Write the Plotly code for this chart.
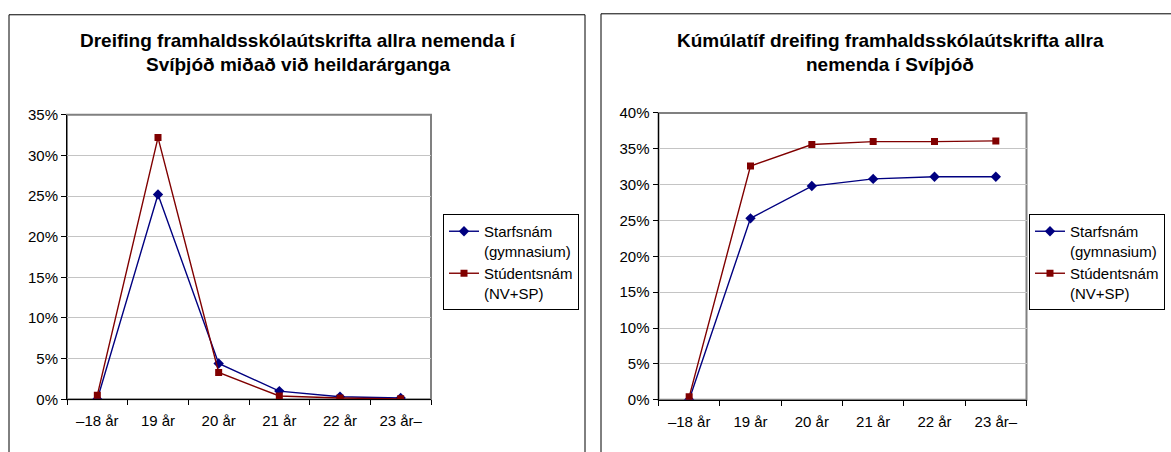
import plotly.graph_objects as go

# categories and values (percent)
ages = ["\u201318 år", "19 år", "20 år", "21 år", "22 år", "23 år\u2013"]

dist_starf = [0.0, 25.2, 4.4, 1.0, 0.3, 0.15]
dist_stud = [0.5, 32.2, 3.3, 0.4, 0.15, 0.05]

cum_starf = [0.0, 25.3, 29.8, 30.8, 31.1, 31.1]
cum_stud = [0.4, 32.6, 35.6, 36.0, 36.0, 36.1]

name_starf = "Starfsnám<br>(gymnasium)"
name_stud = "Stúdentsnám<br>(NV+SP)"

title_left = ["Dreifing framhaldsskólaútskrifta allra nemenda í",
              "Svíþjóð miðað við heildarárganga"]
title_right = ["Kúmúlatíf dreifing framhaldsskólaútskrifta allra",
               "nemenda í Svíþjóð"]

W, H = 1171, 452
FONT = "Liberation Sans, Arial, sans-serif"
BLUE = "#000080"
RED = "#800000"


def px(x):
    return x / W


def py(y):
    return (H - y) / H


fig = go.Figure()

for ax, leg, ys in [("", "legend", (dist_starf, dist_stud)), ("2", "legend2", (cum_starf, cum_stud))]:
    fig.add_trace(go.Scatter(
        x=ages, y=ys[0], name=name_starf, mode="lines+markers",
        line=dict(color=BLUE, width=1.4),
        marker=dict(symbol="diamond", size=8, color=BLUE),
        xaxis="x" + ax, yaxis="y" + ax, legend=leg))
    fig.add_trace(go.Scatter(
        x=ages, y=ys[1], name=name_stud, mode="lines+markers",
        line=dict(color=RED, width=1.4),
        marker=dict(symbol="square", size=7, color=RED),
        xaxis="x" + ax, yaxis="y" + ax, legend=leg))

xcommon = dict(type="category", tickson="boundaries", ticks="outside", ticklen=5,
               tickcolor="black", showline=True, linecolor="black", linewidth=1,
               showgrid=False, range=[-0.5, 5.5], tickfont=dict(size=15, color="black"),
               ticklabelstandoff=8, fixedrange=True)
ycommon = dict(ticks="outside", ticklen=5, tickcolor="black", showline=True,
               linecolor="black", linewidth=1, showgrid=True, gridcolor="#c4c4c4",
               gridwidth=1, dtick=5, ticksuffix="%", zeroline=False,
               tickfont=dict(size=15, color="black"), fixedrange=True)

legcommon = dict(bordercolor="black", borderwidth=1, bgcolor="white",
                 font=dict(size=15, color="black", family=FONT),
                 xanchor="left", yanchor="top", valign="top",
                 tracegroupgap=0, itemwidth=30)

fig.update_layout(
    width=W, height=H,
    margin=dict(l=0, r=0, t=0, b=0),
    paper_bgcolor="white", plot_bgcolor="white",
    font=dict(family=FONT, color="black"),
    xaxis=dict(domain=[px(67), px(431)], anchor="y", **xcommon),
    yaxis=dict(domain=[py(405.5), py(110)], anchor="x", range=[0, 35], **ycommon),
    xaxis2=dict(domain=[px(658.5), px(1026.5)], anchor="y2", **xcommon),
    yaxis2=dict(domain=[py(406), py(108)], anchor="x2", range=[0, 40], **ycommon),
    legend=dict(x=px(443), y=py(213), **legcommon),
    legend2=dict(x=px(1029), y=py(213), **legcommon),
    showlegend=True,
)

# outer chart frames and plot-area borders
fig.add_shape(type="rect", xref="paper", yref="paper", x0=px(9), x1=px(585),
              y0=-0.1, y1=py(6), line=dict(color="black", width=1))
fig.add_shape(type="rect", xref="paper", yref="paper", x0=px(601), x1=1.1,
              y0=-0.1, y1=py(5), line=dict(color="black", width=1))
for ax in ["", "2"]:
    fig.add_shape(type="rect", xref="x" + ax + " domain", yref="y" + ax + " domain",
                  x0=0, x1=1, y0=0, y1=1,
                  line=dict(color="#808080", width=2), layer="below")

for cx, lines in [(298, title_left), (890, title_right)]:
    for i, t in enumerate(lines):
        fig.add_annotation(text="<b>" + t + "</b>", xref="paper", yref="paper",
                           x=px(cx), y=py(33 + 25 * i), xanchor="center", yanchor="middle",
                           showarrow=False, font=dict(size=19, color="black", family=FONT))

fig.write_html("out.html", post_script="document.body.style.margin='0';",
               config={"displayModeBar": False})
